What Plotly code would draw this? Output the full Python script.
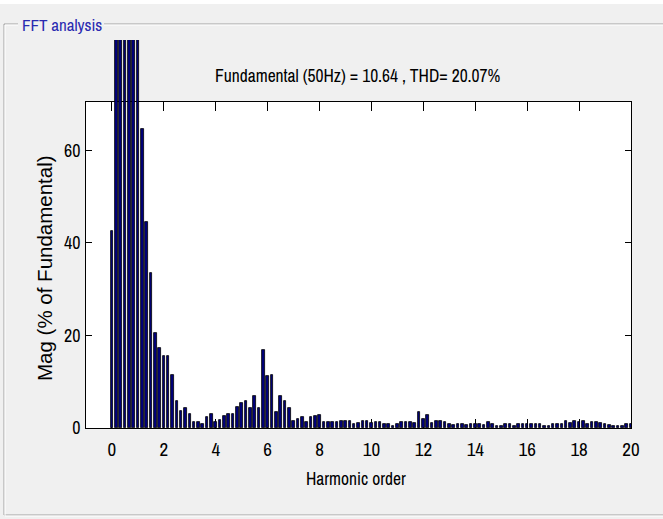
import plotly.graph_objects as go

# ---------------- data ----------------
bins_per_harmonic = 6          # FFT resolution: 50 Hz / 6 = 8.33 Hz
harmonic_order = [round(k / bins_per_harmonic, 4) for k in range(121)]
mag_pct = [
    42.5, 88, 93, 97, 99, 96, 100, 64.5, 44.5, 33.5,
    20.6, 17.2, 15.6, 15.6, 11.4, 5.8, 3.6, 4.3, 3.1, 1.3,
    1.3, 0.8, 2.4, 3.1, 1.4, 1.7, 2.7, 3.1, 3.1, 4.6,
    5.5, 5.8, 4.3, 6.9, 4.3, 16.8, 11.2, 11.5, 3.5, 6.9,
    5.8, 4.3, 1.6, 2.0, 2.4, 1.2, 2.4, 2.7, 2.8, 1.4,
    1.3, 1.4, 1.3, 1.6, 1.6, 1.6, 0.9, 1.0, 1.6, 1.6,
    1.1, 1.2, 1.2, 0.9, 0.9, 0.5, 0.9, 1.4, 1.4, 1.4,
    1.0, 3.5, 2.0, 2.8, 1.1, 1.5, 1.5, 1.3, 0.9, 0.6,
    0.9, 0.9, 0.6, 0.9, 0.9, 0.9, 0.6, 1.2, 0.8, 0.5,
    0.5, 0.9, 0.9, 0.5, 0.9, 0.9, 0.9, 0.9, 0.9, 0.9,
    0.5, 0.5, 0.9, 0.9, 0.9, 1.6, 1.1, 1.6, 1.3, 1.6,
    0.8, 1.2, 1.2, 1.1, 0.9, 0.6, 0.5, 0.5, 0.5, 0.9,
    0.9,
]
x_ticks = [0, 2, 4, 6, 8, 10, 12, 14, 16, 18, 20]
y_ticks = [0, 20, 40, 60]
title_text = "Fundamental (50Hz) = 10.64 , THD= 20.07%"
x_label = "Harmonic order"
y_label = "Mag (% of Fundamental)"
panel_label = "FFT analysis"

# ---------------- layout geometry ----------------
W, H = 663, 519
ML, MR, MT, MB = 86, 32, 40, 91
PW, PH = W - ML - MR, H - MT - MB
AX_TOP_PX = 101.7
X_RANGE = [-1, 20]
Y_TOP_MAIN = 70.5
main_dom_top = (H - MB - AX_TOP_PX) / PH
Y_TOP_OVER = Y_TOP_MAIN / main_dom_top


def px(xp):
    return (xp - ML) / PW


def py(yp):
    return (H - MB - yp) / PH


NARROW = "Archivo Narrow, Asap Condensed, sans-serif"
ARIAL = "Liberation Sans, Arial, sans-serif"

fig = go.Figure()
fig.add_trace(go.Scatter(x=[], y=[], xaxis="x", yaxis="y", showlegend=False))
fig.add_trace(go.Bar(
    x=harmonic_order, y=mag_pct, xaxis="x2", yaxis="y2",
    width=0.1, marker=dict(color="#00007a", line=dict(color="black", width=0.8)),
    showlegend=False, hoverinfo="x+y",
))

shapes = []
# top white strip
shapes.append(dict(type="rect", xref="paper", yref="paper", x0=px(0), x1=px(W), y0=py(0), y1=py(4),
                   line=dict(width=0), fillcolor="white", layer="below"))
# white axes background
shapes.append(dict(type="rect", xref="x domain", yref="y domain", x0=0, x1=1, y0=0, y1=1,
                   line=dict(width=0), fillcolor="white", layer="below"))
# group box (etched)
for off, col in [(0, "#a0a0a0"), (1, "#ffffff")]:
    gx0, gy0, gx1, gy1 = 4 + off, 24 + off, W + 2, 515 + off
    shapes += [
        dict(type="line", xref="paper", yref="paper", x0=px(gx0), x1=px(18), y0=py(gy0), y1=py(gy0),
             line=dict(color=col, width=1)),
        dict(type="line", xref="paper", yref="paper", x0=px(104), x1=px(gx1), y0=py(gy0), y1=py(gy0),
             line=dict(color=col, width=1)),
        dict(type="line", xref="paper", yref="paper", x0=px(gx0), x1=px(gx0), y0=py(gy0), y1=py(gy1),
             line=dict(color=col, width=1)),
        dict(type="line", xref="paper", yref="paper", x0=px(gx0), x1=px(gx1), y0=py(gy1), y1=py(gy1),
             line=dict(color=col, width=1)),
    ]

annotations = [
    dict(text=title_text, xref="paper", yref="paper", x=px(357.5), y=py(75), showarrow=False,
         xanchor="center", yanchor="middle", font=dict(family=NARROW, size=17.5, color="black")),
    dict(text=x_label, xref="paper", yref="paper", x=px(356), y=py(478), showarrow=False,
         xanchor="center", yanchor="middle", font=dict(family=NARROW, size=17.5, color="black")),
    dict(text=y_label, xref="paper", yref="paper", x=px(44), y=py(268), showarrow=False, textangle=-90,
         xanchor="center", yanchor="middle", font=dict(family=ARIAL, size=20.5, color="black")),
    dict(text=panel_label, xref="paper", yref="paper", x=px(20), y=py(25), showarrow=False,
         xanchor="left", yanchor="middle", font=dict(family=NARROW, size=17, color="#2a2ab0")),
]

axis_common = dict(showline=True, linecolor="black", linewidth=1, mirror="ticks", ticks="inside",
                   tickcolor="black", showgrid=False, zeroline=False)

fig.update_layout(
    width=W, height=H, autosize=False,
    margin=dict(l=ML, r=MR, t=MT, b=MB, pad=0),
    paper_bgcolor="#f0f0f0", plot_bgcolor="rgba(0,0,0,0)",
    xaxis=dict(domain=[0, 1], range=X_RANGE, tickvals=x_ticks, ticklen=9, anchor="y",
               ticklabelstandoff=4, tickfont=dict(family=NARROW, size=19, color="black"), **axis_common),
    yaxis=dict(domain=[0, main_dom_top], range=[0, Y_TOP_MAIN], tickvals=y_ticks, ticklen=6, anchor="x",
               ticklabelstandoff=1, tickfont=dict(family=NARROW, size=18, color="black"), **axis_common),
    xaxis2=dict(domain=[0, 1], range=X_RANGE, visible=False, anchor="y2"),
    yaxis2=dict(domain=[0, 1], range=[0, Y_TOP_OVER], visible=False, anchor="x2"),
    bargap=0, shapes=shapes, annotations=annotations,
)

fig.write_html("out.html")
